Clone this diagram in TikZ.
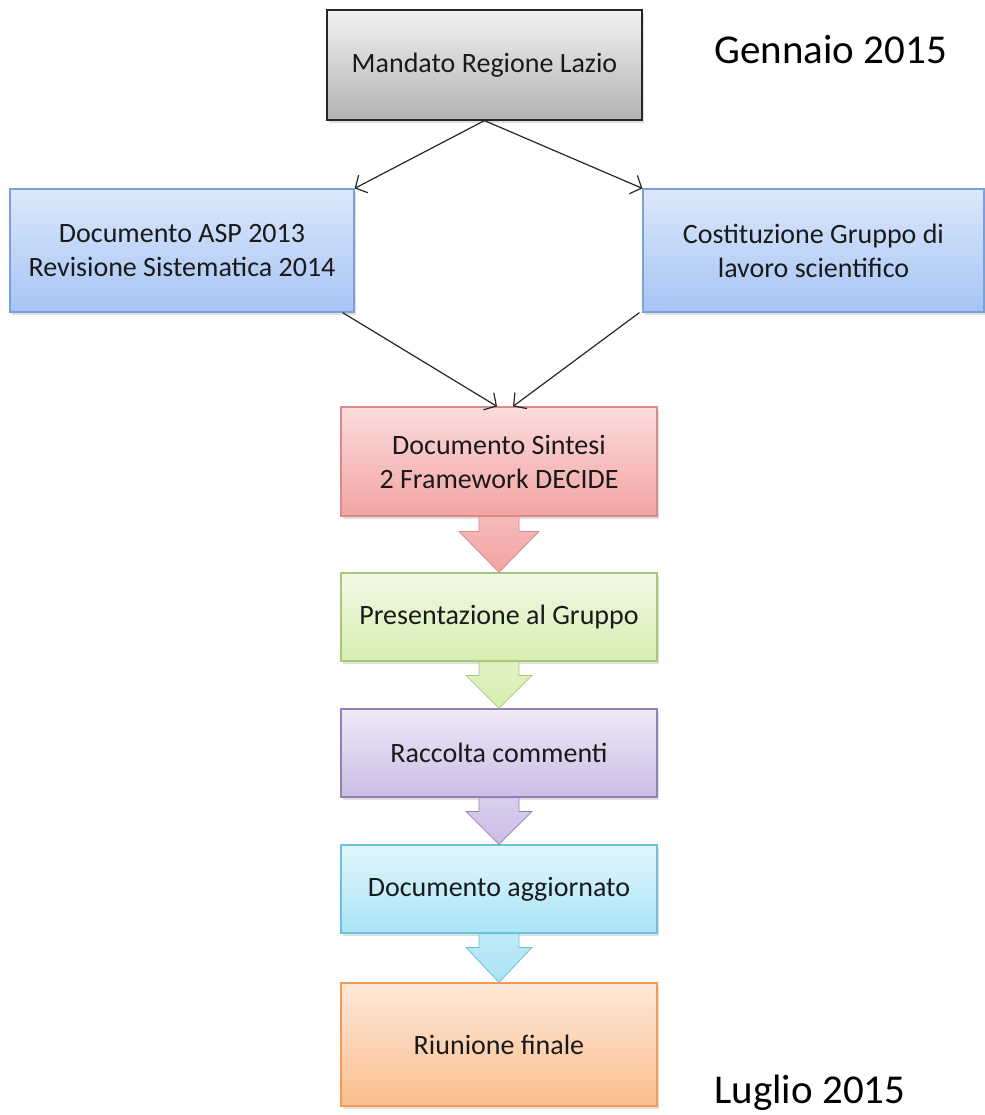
\documentclass[tikz,border=0pt]{standalone}
\usepackage{fontspec}
\setmainfont{Carlito}
\usetikzlibrary{calc,shadows,arrows.meta}
\definecolor{grigioA}{HTML}{F2F2F2}
\definecolor{grigioB}{HTML}{B2B2B2}
\definecolor{bluA}{HTML}{DCE8FB}
\definecolor{bluB}{HTML}{A6C4F4}
\definecolor{bluC}{HTML}{7BA0D8}
\definecolor{rossoA}{HTML}{FCDCDC}
\definecolor{rossoB}{HTML}{F3A3A3}
\definecolor{rossoC}{HTML}{D98B8B}
\definecolor{verdeA}{HTML}{F2F9E6}
\definecolor{verdeB}{HTML}{D5EEAE}
\definecolor{verdeC}{HTML}{A9C77A}
\definecolor{violaA}{HTML}{EFE8F6}
\definecolor{violaB}{HTML}{CBBDE5}
\definecolor{violaC}{HTML}{9580B5}
\definecolor{cianoA}{HTML}{E2F6FC}
\definecolor{cianoB}{HTML}{A9E4F7}
\definecolor{cianoC}{HTML}{6CC0D8}
\definecolor{aranA}{HTML}{FDE8D8}
\definecolor{aranB}{HTML}{FBBE8E}
\definecolor{aranC}{HTML}{F39B56}
\definecolor{testo}{HTML}{1A1A1A}
\tikzset{
  box/.style={rectangle, align=center, text=testo, font=\fontsize{28}{34}\selectfont,
    line width=1.2pt, drop shadow={shadow xshift=2pt, shadow yshift=-3pt, opacity=0.25}},
  grigio/.style={box, draw=black!85, top color=grigioA, bottom color=grigioB},
  blu/.style={box, draw=bluC, top color=bluA, bottom color=bluB},
  rosso/.style={box, draw=rossoC, top color=rossoA, bottom color=rossoB},
  verde/.style={box, draw=verdeC, top color=verdeA, bottom color=verdeB},
  viola/.style={box, draw=violaC, top color=violaA, bottom color=violaB},
  ciano/.style={box, draw=cianoC, top color=cianoA, bottom color=cianoB},
  arancio/.style={box, draw=aranC, top color=aranA, bottom color=aranB},
  freccia/.style={line width=1.2pt, black!85, -{Straight Barb[length=9pt,width=20pt]}},
  data/.style={font=\fontsize{41}{48}\selectfont, text=black}
}
\begin{document}
\begin{tikzpicture}[x=1pt,y=-1pt]
\useasboundingbox (0,0) rectangle (984,1115);
% caselle
\node[grigio, minimum width=315, minimum height=110] (mandato) at (484.5,65) {Mandato Regione Lazio};
\node[blu, minimum width=344, minimum height=123] (asp) at (182,250.5) {Documento ASP 2013\\Revisione Sistematica 2014};
\node[blu, minimum width=341, minimum height=123] (gruppo) at (813.5,250.5) {Costituzione Gruppo di\\lavoro scientifico};
\node[rosso, minimum width=316, minimum height=109] (sintesi) at (499,461.5) {Documento Sintesi\\2 Framework DECIDE};
\node[verde, minimum width=316, minimum height=88] (presenta) at (499,617) {Presentazione al Gruppo};
\node[viola, minimum width=316, minimum height=88] (commenti) at (499,753) {Raccolta commenti};
\node[ciano, minimum width=316, minimum height=88] (aggiorna) at (499,889) {Documento aggiornato};
\node[arancio, minimum width=316, minimum height=123] (finale) at (499,1044.5) {Riunione finale};
% date
\node[data, anchor=west] (inizio) at (711,50) {Gennaio 2015};
\node[data, anchor=west] (fine) at (711,1093) {Luglio 2015};
% frecce sottili
\draw[freccia] (mandato.south) -- (asp.north east);
\draw[freccia] (mandato.south) -- (gruppo.north west);
\draw[freccia] ($(asp.south east)+(-12,0)$) -- ($(sintesi.north)+(-2,0)$);
\draw[freccia] ($(gruppo.south west)+(-3,0)$) -- ($(sintesi.north)+(14,0)$);
% frecce a blocco
\foreach \a/\b/\c/\w/\l in {sintesi/presenta/rosso/40/41, presenta/commenti/verde/33/33,
    commenti/aggiorna/viola/33/33, aggiorna/finale/ciano/33/35}
  \draw[draw=\c C, line width=0.8pt, top color=\c A!40!\c B, bottom color=\c B]
    ($(\a.south)+(-20,0)$) -- ($(\b.north)+(-20,-\l)$) -- ($(\b.north)+(-\w,-\l)$)
    -- (\b.north) -- ($(\b.north)+(\w,-\l)$) -- ($(\b.north)+(20,-\l)$)
    -- ($(\a.south)+(20,0)$) -- cycle;
\end{tikzpicture}
\end{document}
